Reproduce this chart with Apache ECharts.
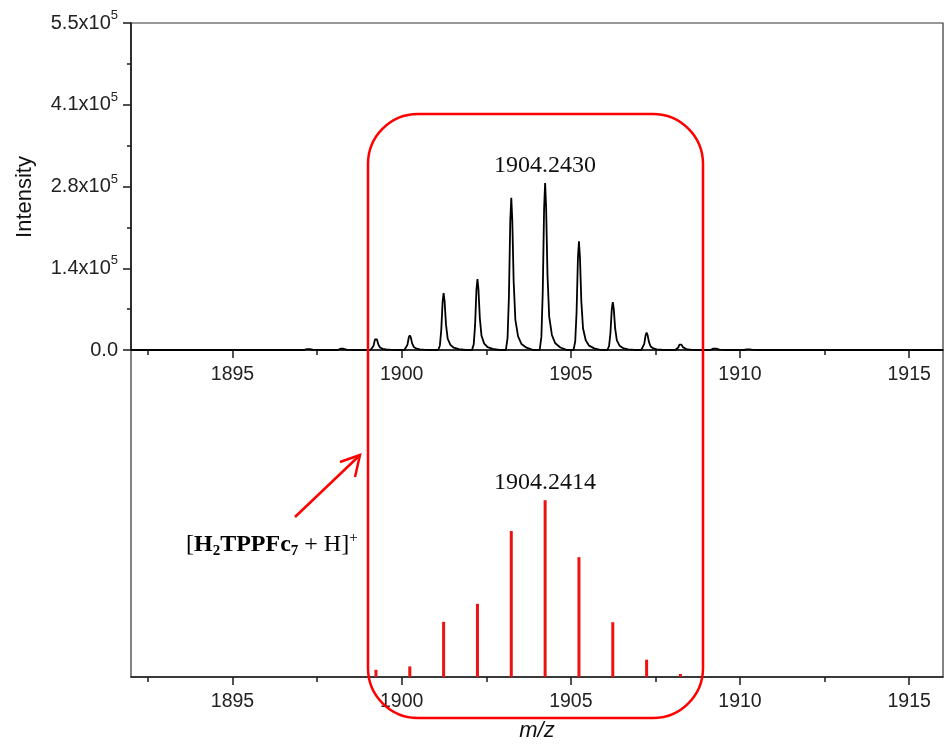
<!DOCTYPE html>
<html><head><meta charset="utf-8">
<script src="https://cdn.jsdelivr.net/npm/echarts@6/dist/echarts.min.js"></script>
<style>html,body{margin:0;padding:0;background:#fff}#c{width:944px;height:744px}</style>
</head><body><div id="c"></div><script>
// ---- data ----
// measured profile spectrum (top panel), m/z and intensity
const profileMz = [
  1892.00,
  1897.11, 1897.19, 1897.23, 1897.28, 1897.37, 1897.58,
  1898.11, 1898.19, 1898.23, 1898.28, 1898.37, 1898.58,
  1899.08, 1899.13, 1899.17, 1899.21, 1899.24, 1899.27, 1899.31, 1899.36, 1899.44, 1899.54, 1899.69, 1899.89,
  1900.08, 1900.13, 1900.17, 1900.21, 1900.24, 1900.27, 1900.31, 1900.36, 1900.44, 1900.54, 1900.69, 1900.89,
  1901.08, 1901.13, 1901.17, 1901.21, 1901.24, 1901.27, 1901.31, 1901.36, 1901.44, 1901.54, 1901.69, 1901.89,
  1902.08, 1902.13, 1902.17, 1902.21, 1902.24, 1902.27, 1902.31, 1902.36, 1902.44, 1902.54, 1902.69, 1902.89,
  1903.08, 1903.13, 1903.17, 1903.21, 1903.24, 1903.27, 1903.31, 1903.36, 1903.44, 1903.54, 1903.69, 1903.89,
  1904.08, 1904.13, 1904.17, 1904.21, 1904.24, 1904.27, 1904.31, 1904.36, 1904.44, 1904.54, 1904.69, 1904.89,
  1905.08, 1905.13, 1905.17, 1905.21, 1905.24, 1905.27, 1905.31, 1905.36, 1905.44, 1905.54, 1905.69, 1905.89,
  1906.08, 1906.13, 1906.17, 1906.21, 1906.24, 1906.27, 1906.31, 1906.36, 1906.44, 1906.54, 1906.69, 1906.89,
  1907.08, 1907.13, 1907.17, 1907.21, 1907.24, 1907.27, 1907.31, 1907.36, 1907.44, 1907.54, 1907.69, 1907.89,
  1908.08, 1908.13, 1908.17, 1908.21, 1908.24, 1908.27, 1908.31, 1908.36, 1908.44, 1908.54, 1908.69, 1908.89,
  1909.13, 1909.21, 1909.25, 1909.30, 1909.39, 1909.60,
  1910.12, 1910.20, 1910.24, 1910.29, 1910.38, 1910.59,
  1916.00
];
const profileIntensity = [
  0,
  0, 1500, 2500, 1500, 500, 0,
  0, 2100, 3500, 2100, 700, 0,
  0, 1664, 7280, 17680, 20800, 17680, 9360, 4160, 1872, 832, 312, 0,
  0, 1984, 8680, 21080, 24800, 21080, 11160, 4960, 2232, 992, 372, 0,
  0, 7648, 33460, 81260, 95600, 81260, 43020, 19120, 8604, 3824, 1434, 0,
  0, 9544, 41755, 101405, 119300, 101405, 53685, 23860, 10737, 4772, 1790, 0,
  0, 20480, 89600, 217600, 256000, 217600, 115200, 51200, 23040, 10240, 3840, 0,
  0, 22480, 98350, 238850, 281000, 238850, 126450, 56200, 25290, 11240, 4215, 0,
  0, 14616, 63945, 155295, 182700, 155295, 82215, 36540, 16443, 7308, 2741, 0,
  0, 6432, 28140, 68340, 80400, 68340, 36180, 16080, 7236, 3216, 1206, 0,
  0, 2336, 10220, 24820, 29200, 24820, 13140, 5840, 2628, 1168, 438, 0,
  0, 856, 3745, 9095, 10700, 9095, 4815, 2140, 963, 428, 161, 0,
  0, 2400, 4000, 2400, 800, 0,
  0, 900, 1500, 900, 300, 0,
  0
];
// simulated isotope pattern (bottom panel), relative intensity %
const stickMz = [1899.24, 1900.24, 1901.24, 1902.24, 1903.24, 1904.24, 1905.24, 1906.24, 1907.24, 1908.24];
const stickRel = [4.1, 6.0, 31.2, 41.4, 82.6, 100, 67.8, 31.0, 9.8, 1.7];
// axes
const xTickValues = [1895, 1900, 1905, 1910, 1915];
const xMinorTickValues = [1892.5, 1897.5, 1902.5, 1907.5, 1912.5];
const yTickMantissa = ['0.0', '1.4', '2.8', '4.1', '5.5'];
const yStep = 137500;
const peakLabelTop = '1904.2430';
const peakLabelBottom = '1904.2414';

// ---- chart ----
const SANS = 'Liberation Sans, Arial, sans-serif';
const SERIF = 'Liberation Serif, Times New Roman, serif';
const AX = '#1a1a1a';
const RED = '#ff0000';

const chart = echarts.init(document.getElementById('c'));

function xMain(grid) {
  return {
    type: 'value', gridIndex: grid, min: 1892, max: 1916, position: 'bottom',
    axisLine: { show: true, onZero: false, lineStyle: { color: AX, width: 1.6 } },
    axisTick: { show: true, inside: false, length: 8, customValues: xTickValues, lineStyle: { color: AX, width: 1.5 } },
    axisLabel: { customValues: xTickValues, margin: 15, fontSize: 19.5, fontFamily: SANS, color: '#222',
                 formatter: function (v) { return String(v); } },
    splitLine: { show: false }
  };
}
function xMinor(grid) {
  return {
    type: 'value', gridIndex: grid, min: 1892, max: 1916, position: 'bottom',
    axisLine: { show: false },
    axisTick: { show: true, inside: false, length: 5, customValues: xMinorTickValues, lineStyle: { color: AX, width: 1.5 } },
    axisLabel: { show: false },
    splitLine: { show: false }
  };
}

const option = {
  animation: false,
  backgroundColor: '#fff',
  grid: [
    { left: 131, top: 23, width: 812, height: 327, show: true, borderColor: '#333', borderWidth: 1.2, backgroundColor: 'transparent' },
    { left: 131, top: 350, width: 812, height: 327, show: true, borderColor: '#333', borderWidth: 1.2, backgroundColor: 'transparent' }
  ],
  xAxis: [xMain(0), xMain(1), xMinor(0), xMinor(1)],
  yAxis: [
    {
      type: 'value', gridIndex: 0, min: 0, max: 550000, interval: yStep,
      axisLine: { show: true, lineStyle: { color: AX, width: 1.6 } },
      axisTick: { show: true, inside: false, length: 8, lineStyle: { color: AX, width: 1.5 } },
      minorTick: { show: true, splitNumber: 2, length: 4, lineStyle: { color: AX, width: 1.5 } },
      splitLine: { show: false },
      axisLabel: {
        margin: 13, color: '#222',
        formatter: function (v) {
          const i = Math.round(v / yStep);
          if (i === 0) return '{a|' + yTickMantissa[0] + '}';
          return '{a|' + yTickMantissa[i] + 'x10}{s|5}';
        },
        rich: {
          a: { fontSize: 20, fontFamily: SANS, color: '#222', lineHeight: 28 },
          s: { fontSize: 13, fontFamily: SANS, color: '#222', lineHeight: 12, verticalAlign: 'top' }
        }
      }
    },
    { type: 'value', gridIndex: 1, min: 0, max: 185, show: false }
  ],
  series: [
    {
      type: 'line', xAxisIndex: 0, yAxisIndex: 0, showSymbol: false, symbol: 'none',
      lineStyle: { color: '#000', width: 1.8 },
      data: profileMz.map((m, i) => [m, profileIntensity[i]])
    },
    {
      type: 'bar', xAxisIndex: 1, yAxisIndex: 1, barWidth: 3,
      itemStyle: { color: '#ee1111' },
      data: stickMz.map((m, i) => [m, stickRel[i]])
    }
  ],
  graphic: [
    { type: 'rect', shape: { x: 368, y: 114, width: 335, height: 604, r: 50 },
      style: { fill: 'none', stroke: RED, lineWidth: 2.5 }, z: 100 },
    { type: 'line', shape: { x1: 295, y1: 517, x2: 359, y2: 456 }, style: { stroke: RED, lineWidth: 2.5 }, z: 100 },
    { type: 'polyline', shape: { points: [[340, 462], [360, 455], [355, 477]] }, style: { stroke: RED, lineWidth: 2.5, fill: 'none' }, z: 100 },
    { type: 'text', x: 545, y: 166, z: 100,
      style: { text: peakLabelTop, font: '24px ' + SERIF, fill: '#111', align: 'center', verticalAlign: 'middle' } },
    { type: 'text', x: 545, y: 483, z: 100,
      style: { text: peakLabelBottom, font: '24px ' + SERIF, fill: '#111', align: 'center', verticalAlign: 'middle' } },
    { type: 'text', x: 186, y: 545, z: 100,
      style: {
        text: '{n|[}{b|H}{bs|2}{b|TPPFc}{bs|7}{n| + H]}{sp|+}',
        align: 'left', verticalAlign: 'middle',
        rich: {
          n: { fontSize: 24, fontFamily: SERIF, color: '#111', lineHeight: 28 },
          b: { fontSize: 24, fontFamily: SERIF, fontWeight: 'bold', color: '#111', lineHeight: 28 },
          bs: { fontSize: 15, fontFamily: SERIF, fontWeight: 'bold', color: '#111', lineHeight: 15, verticalAlign: 'bottom' },
          sp: { fontSize: 15, fontFamily: SERIF, color: '#111', lineHeight: 20, verticalAlign: 'top' }
        }
      } },
    { type: 'text', x: 25, y: 197, rotation: Math.PI / 2, z: 100,
      style: { text: 'Intensity', font: '22px ' + SANS, fill: '#111', align: 'center', verticalAlign: 'middle' } },
    { type: 'text', x: 537, y: 731, z: 100,
      style: { text: 'm/z', font: 'italic 22px ' + SANS, fill: '#111', align: 'center', verticalAlign: 'middle' } }
  ]
};
chart.setOption(option);
</script></body></html>
